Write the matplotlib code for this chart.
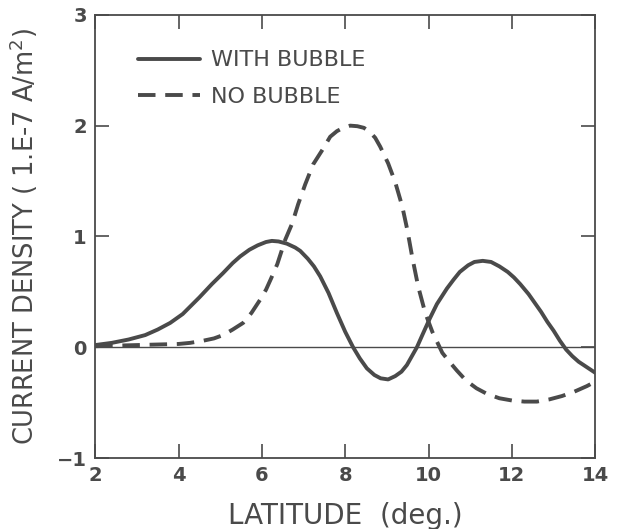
import numpy as np
import matplotlib
matplotlib.use("Agg")
import matplotlib.pyplot as plt

lat_bub = [2.0, 2.4, 2.8, 3.2, 3.5, 3.8, 4.1, 4.5, 4.8, 5.07, 5.3, 5.48, 5.7, 5.9,
           6.1, 6.24, 6.4, 6.6, 6.8, 6.92, 7.1, 7.25, 7.4, 7.6, 7.8, 8.0, 8.19,
           8.35, 8.52, 8.7, 8.85, 9.03, 9.2, 9.35, 9.48, 9.6, 9.72, 9.85, 10.03,
           10.2, 10.44, 10.6, 10.75, 10.95, 11.1, 11.3, 11.5, 11.7, 11.9, 12.05,
           12.2, 12.4, 12.55, 12.7, 12.85, 13.0, 13.15, 13.3, 13.45, 13.6, 13.8, 14.0]
j_bub = [0.02, 0.04, 0.07, 0.11, 0.16, 0.22, 0.30, 0.45, 0.57, 0.67, 0.76, 0.82, 0.88, 0.92,
         0.95, 0.96, 0.955, 0.935, 0.9, 0.87, 0.8, 0.73, 0.64, 0.49, 0.31, 0.14, 0.0,
         -0.1, -0.19, -0.25, -0.28, -0.29, -0.26, -0.22, -0.16, -0.08, 0.0, 0.11, 0.26,
         0.39, 0.53, 0.61, 0.68, 0.74, 0.77, 0.78, 0.77, 0.73, 0.68, 0.63,
         0.57, 0.48, 0.4, 0.32, 0.23, 0.15, 0.06, -0.02, -0.08, -0.13, -0.18, -0.23]

lat_nob = [2.0, 2.5, 3.0, 3.5, 4.0, 4.28, 4.6, 4.85, 5.07, 5.3, 5.55, 5.75, 5.96,
           6.1, 6.22, 6.37, 6.56, 6.73, 6.87, 7.04, 7.23, 7.45, 7.64, 7.8, 7.95,
           8.12, 8.29, 8.45, 8.6, 8.72, 8.84, 9.03, 9.2, 9.37, 9.49, 9.61, 9.75, 9.92,
           10.09, 10.33, 10.5, 10.68, 10.9, 11.15, 11.4, 11.7,
           12.0, 12.3, 12.6, 12.9, 13.2, 13.5, 13.8, 14.0]
j_nob = [0.01, 0.015, 0.02, 0.025, 0.03, 0.04, 0.06, 0.08, 0.11, 0.16, 0.22, 0.31, 0.43,
         0.52, 0.62, 0.75, 0.97, 1.12, 1.29, 1.47, 1.65, 1.78, 1.9, 1.95, 1.98,
         2.0, 1.995, 1.98, 1.94, 1.89, 1.81, 1.66, 1.49, 1.27, 1.06, 0.81, 0.55, 0.31,
         0.14, -0.05, -0.13, -0.21, -0.3, -0.37, -0.42, -0.46,
         -0.48, -0.49, -0.49, -0.47, -0.44, -0.4, -0.35, -0.31]

xticks = [2, 4, 6, 8, 10, 12, 14]
yticks = [-1, 0, 1, 2, 3]

ink = '#4a4a4a'
plt.rcParams['font.family'] = ['DejaVu Sans']

fig = plt.figure(figsize=(6.22, 5.29), dpi=100)
ax = fig.add_axes([0.153, 0.134, 0.804, 0.838])

ax.axhline(0, color=ink, lw=1.0)
ax.plot(lat_bub, j_bub, color=ink, lw=2.8, label='WITH BUBBLE',
        solid_joinstyle='round', solid_capstyle='round')
ax.plot(lat_nob, j_nob, color=ink, lw=2.8, dashes=(4.5, 2.5), label='NO BUBBLE',
        dash_joinstyle='round')

ax.set_xlim(2, 14)
ax.set_ylim(-1, 3)
ax.set_xticks(xticks)
ax.set_yticks(yticks)
ax.tick_params(direction='in', length=10, width=1.2, colors=ink, labelsize=14,
               top=True, right=True, pad=6)
for lbl in ax.get_xticklabels() + ax.get_yticklabels():
    lbl.set_fontweight('bold')
for s in ax.spines.values():
    s.set_color(ink)
    s.set_linewidth(1.3)

ax.set_xlabel('LATITUDE  (deg.)', fontsize=20, color=ink, labelpad=12)
ax.set_ylabel('CURRENT DENSITY ( 1.E-7 A/m$^2$)', fontsize=18.5, color=ink, labelpad=12)

leg = ax.legend(loc='upper left', bbox_to_anchor=(0.045, 0.965), frameon=False,
                fontsize=16, handlelength=2.8, handletextpad=0.5, labelspacing=0.75,
                labelcolor=ink)

fig.savefig('out.png', dpi=100)
